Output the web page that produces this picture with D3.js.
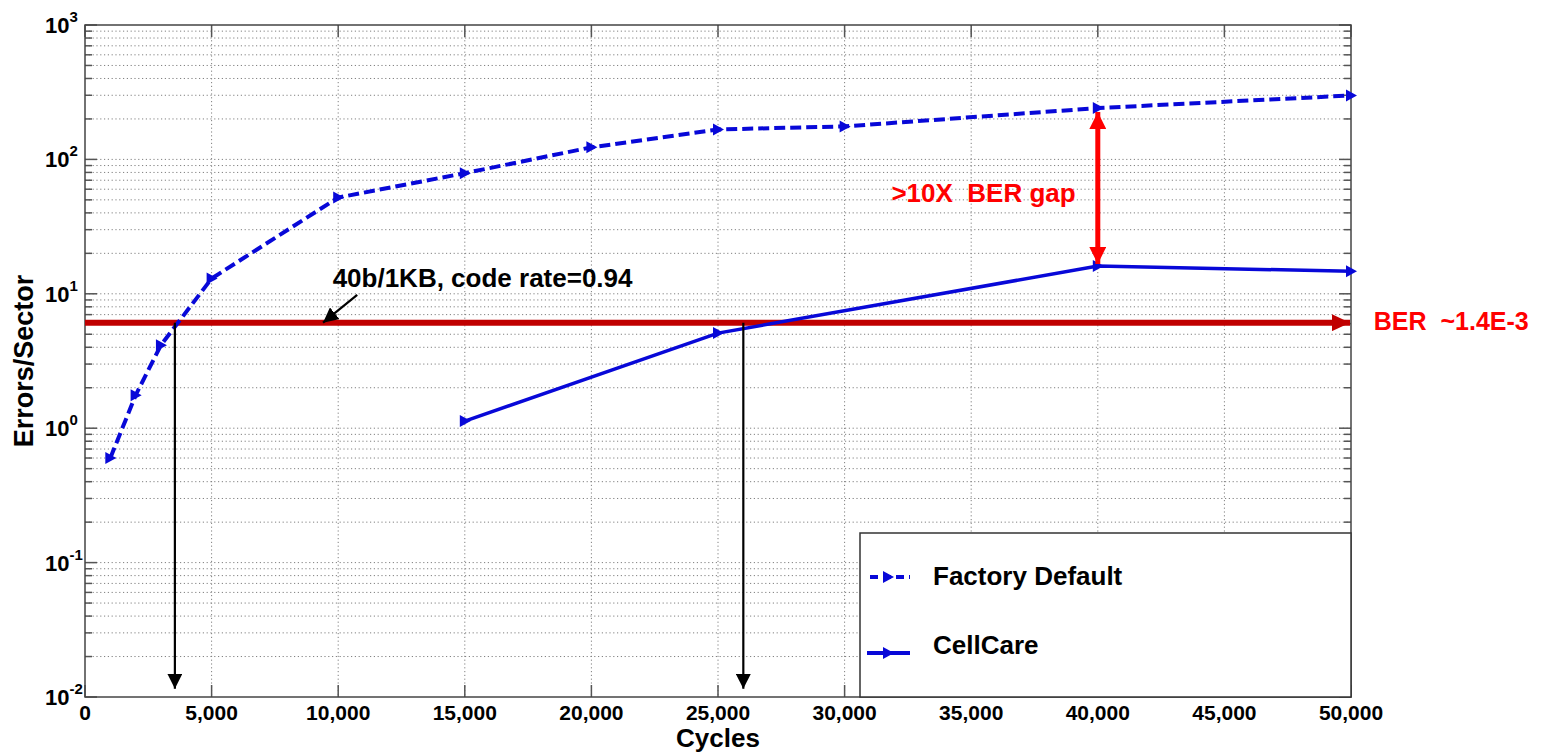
<!DOCTYPE html>
<html>
<head>
<meta charset="utf-8">
<script src="https://cdn.jsdelivr.net/npm/d3@7"></script>
<style>
  body { margin: 0; background: #fff; }
  text { font-family: "Liberation Sans", Arial, sans-serif; font-weight: bold; }
</style>
</head>
<body>
<div id="chart"></div>
<script>
// dados
const cycles_factory = [1000, 2000, 3000, 5000, 10000, 15000, 20000, 25000, 30000, 40000, 50000];
const errors_factory = [0.6, 1.76, 4.15, 13.0, 52, 79, 123, 167, 176, 241, 299];
const cycles_cellcare = [15000, 25000, 40000, 50000];
const errors_cellcare = [1.13, 5.1, 16.1, 14.7];
const series_names = ["Factory Default", "CellCare"];

const x_ticks = [0, 5000, 10000, 15000, 20000, 25000, 30000, 35000, 40000, 45000, 50000];
const y_decades = [-2, -1, 0, 1, 2, 3];

// anotações (coordenadas de dados)
const ecc_limit = 6.1;
const ecc_cross_cycles = [3550, 26000];
const gap_arrow = { x: 40000, y0: 241, y1: 16.1 };
const note_arrow = { x0: 10750, y0: 9.8, x1: 9400, y1: 6.1 };
const labels = [
  { text: "40b/1KB, code rate=0.94", x: 9780, y: 11.2, color: "#000", size: 26 },
  { text: ">10X  BER gap", x: 31850, y: 48, color: "#ff0000", size: 26 },
  { text: "BER  ~1.4E-3", x: 50900, y: 5.35, color: "#ff0000", size: 25 }
];

function graficar(id_area) {
  let margin = { top: 25, right: 194, bottom: 56, left: 85 };
  let width = 1545 - margin.left - margin.right;
  let height = 753 - margin.top - margin.bottom;

  let root = d3.select(`#${id_area}`).append("svg")
    .attr("width", 1545)
    .attr("height", 753);

  let defs = root.append("defs");
  function marker(id, color, w, h) {
    defs.append("marker")
      .attr("id", id)
      .attr("viewBox", `0 0 ${w} ${h}`)
      .attr("refX", w).attr("refY", h / 2)
      .attr("markerWidth", w).attr("markerHeight", h)
      .attr("markerUnits", "userSpaceOnUse")
      .attr("orient", "auto-start-reverse")
      .append("path")
      .attr("d", `M0,0 L${w},${h / 2} L0,${h} Z`)
      .attr("fill", color);
  }
  marker("head-black", "#000", 15, 15);
  marker("head-red", "#ff0000", 17, 17);
  marker("head-dark", "#c00000", 18, 17);

  let svg = root.append("g")
    .attr("transform", `translate(${margin.left}, ${margin.top})`);

  let x = d3.scaleLinear().domain([0, 50000]).range([0, width]);
  let y = d3.scaleLog().domain([0.01, 1000]).range([height, 0]);

  const minors = [];
  y_decades.slice(0, -1).forEach(e => {
    for (let k = 2; k <= 9; k++) minors.push(k * Math.pow(10, e));
  });
  const majors = y_decades.map(e => Math.pow(10, e));

  // grade pontilhada
  let grid = svg.append("g")
    .attr("stroke", "#808080")
    .attr("stroke-width", 1)
    .attr("stroke-dasharray", "1.2,2.6");
  grid.selectAll(".gy").data(minors.concat(majors.slice(1, -1))).enter().append("line")
    .attr("x1", 0).attr("x2", width)
    .attr("y1", d => y(d)).attr("y2", d => y(d));
  grid.selectAll(".gx").data(x_ticks.slice(1, -1)).enter().append("line")
    .attr("y1", 0).attr("y2", height)
    .attr("x1", d => x(d)).attr("x2", d => x(d));

  // eixos (ticks para dentro, nos quatro lados)
  let ax = svg.append("g").attr("stroke", "#555").attr("stroke-width", 1.5);
  ax.selectAll(".tl").data(majors).enter().append("line")
    .attr("x1", 0).attr("x2", 12).attr("y1", d => y(d)).attr("y2", d => y(d));
  ax.selectAll(".tl2").data(minors).enter().append("line")
    .attr("x1", 0).attr("x2", 7).attr("y1", d => y(d)).attr("y2", d => y(d));
  ax.selectAll(".tr").data(majors).enter().append("line")
    .attr("x1", width).attr("x2", width - 12).attr("y1", d => y(d)).attr("y2", d => y(d));
  ax.selectAll(".tr2").data(minors).enter().append("line")
    .attr("x1", width).attr("x2", width - 7).attr("y1", d => y(d)).attr("y2", d => y(d));
  ax.selectAll(".tb").data(x_ticks).enter().append("line")
    .attr("y1", height).attr("y2", height - 12).attr("x1", d => x(d)).attr("x2", d => x(d));
  ax.selectAll(".tt").data(x_ticks).enter().append("line")
    .attr("y1", 0).attr("y2", 12).attr("x1", d => x(d)).attr("x2", d => x(d));

  svg.append("rect")
    .attr("width", width).attr("height", height)
    .attr("fill", "none").attr("stroke", "#444").attr("stroke-width", 1.5);

  // rótulos dos ticks
  svg.selectAll(".xl").data(x_ticks).enter().append("text")
    .attr("x", d => x(d)).attr("y", height + 23)
    .attr("text-anchor", "middle")
    .attr("font-size", 21)
    .text(d => d3.format(",")(d));

  let yl = svg.selectAll(".yl").data(y_decades).enter().append("text")
    .attr("y", d => y(Math.pow(10, d)) + 8)
    .attr("x", -40)
    .attr("font-size", 22);
  yl.append("tspan").text("10");
  yl.append("tspan")
    .attr("dy", -11).attr("font-size", 15)
    .text(d => d);

  svg.append("text")
    .attr("x", width / 2).attr("y", height + 50)
    .attr("text-anchor", "middle")
    .attr("font-size", 26)
    .text("Cycles");

  svg.append("text")
    .attr("transform", `translate(${-52}, ${height / 2}) rotate(-90)`)
    .attr("text-anchor", "middle")
    .attr("font-size", 27)
    .text("Errors/Sector");

  // linha do limite ECC
  svg.append("line")
    .attr("x1", x(0)).attr("x2", x(50000) - 1)
    .attr("y1", y(ecc_limit)).attr("y2", y(ecc_limit))
    .attr("stroke", "#c00000").attr("stroke-width", 6)
    .attr("marker-end", "url(#head-dark)");

  const blue = "#0808d8";
  const tri = "M-5,-6 L6,0 L-5,6 Z";

  let line = d3.line()
    .x(d => x(d[0]))
    .y(d => y(d[1]));

  const fd = cycles_factory.map((c, i) => [c, errors_factory[i]]);
  const cc = cycles_cellcare.map((c, i) => [c, errors_cellcare[i]]);

  svg.append("path")
    .datum(fd)
    .attr("d", line)
    .attr("fill", "none")
    .attr("stroke", blue)
    .attr("stroke-width", 4)
    .attr("stroke-dasharray", "11,5");

  svg.append("path")
    .datum(cc)
    .attr("d", line)
    .attr("fill", "none")
    .attr("stroke", blue)
    .attr("stroke-width", 3.5);

  svg.selectAll(".m1").data(fd.concat(cc)).enter().append("path")
    .attr("d", tri)
    .attr("transform", d => `translate(${x(d[0])},${y(d[1])})`)
    .attr("fill", blue);

  // setas pretas de cruzamento
  svg.selectAll(".cross").data(ecc_cross_cycles).enter().append("line")
    .attr("x1", d => x(d)).attr("x2", d => x(d))
    .attr("y1", y(ecc_limit)).attr("y2", y(0.0115))
    .attr("stroke", "#000").attr("stroke-width", 2.2)
    .attr("marker-end", "url(#head-black)");

  // seta da nota
  svg.append("line")
    .attr("x1", x(note_arrow.x0)).attr("y1", y(note_arrow.y0))
    .attr("x2", x(note_arrow.x1)).attr("y2", y(note_arrow.y1))
    .attr("stroke", "#000").attr("stroke-width", 2.2)
    .attr("marker-end", "url(#head-black)");

  // seta dupla vermelha
  svg.append("line")
    .attr("x1", x(gap_arrow.x)).attr("x2", x(gap_arrow.x))
    .attr("y1", y(gap_arrow.y0) + 4).attr("y2", y(gap_arrow.y1) - 2)
    .attr("stroke", "#ff0000").attr("stroke-width", 5)
    .attr("marker-start", "url(#head-red)")
    .attr("marker-end", "url(#head-red)");

  svg.selectAll(".lab").data(labels).enter().append("text")
    .attr("x", d => x(d.x)).attr("y", d => y(d.y))
    .attr("font-size", d => d.size)
    .attr("fill", d => d.color)
    .style("white-space", "pre")
    .text(d => d.text);

  // legenda
  let lg = svg.append("g").attr("transform", `translate(${775}, ${508})`);
  lg.append("rect")
    .attr("width", width - 775).attr("height", height - 508)
    .attr("fill", "#fff").attr("stroke", "#333").attr("stroke-width", 1.5);
  series_names.forEach((name, i) => {
    let yy = 44 + i * 76;
    lg.append("line")
      .attr("x1", i === 0 ? 10 : 7).attr("x2", 50)
      .attr("y1", yy).attr("y2", yy)
      .attr("stroke", blue).attr("stroke-width", 4)
      .attr("stroke-dasharray", i === 0 ? "8,5" : null);
    lg.append("path")
      .attr("d", tri)
      .attr("transform", `translate(${28},${yy})`)
      .attr("fill", blue);
    lg.append("text")
      .attr("x", 73).attr("y", i === 0 ? yy + 8 : yy + 1)
      .attr("font-size", 26)
      .text(name);
  });
}

graficar("chart");
</script>
</body>
</html>
